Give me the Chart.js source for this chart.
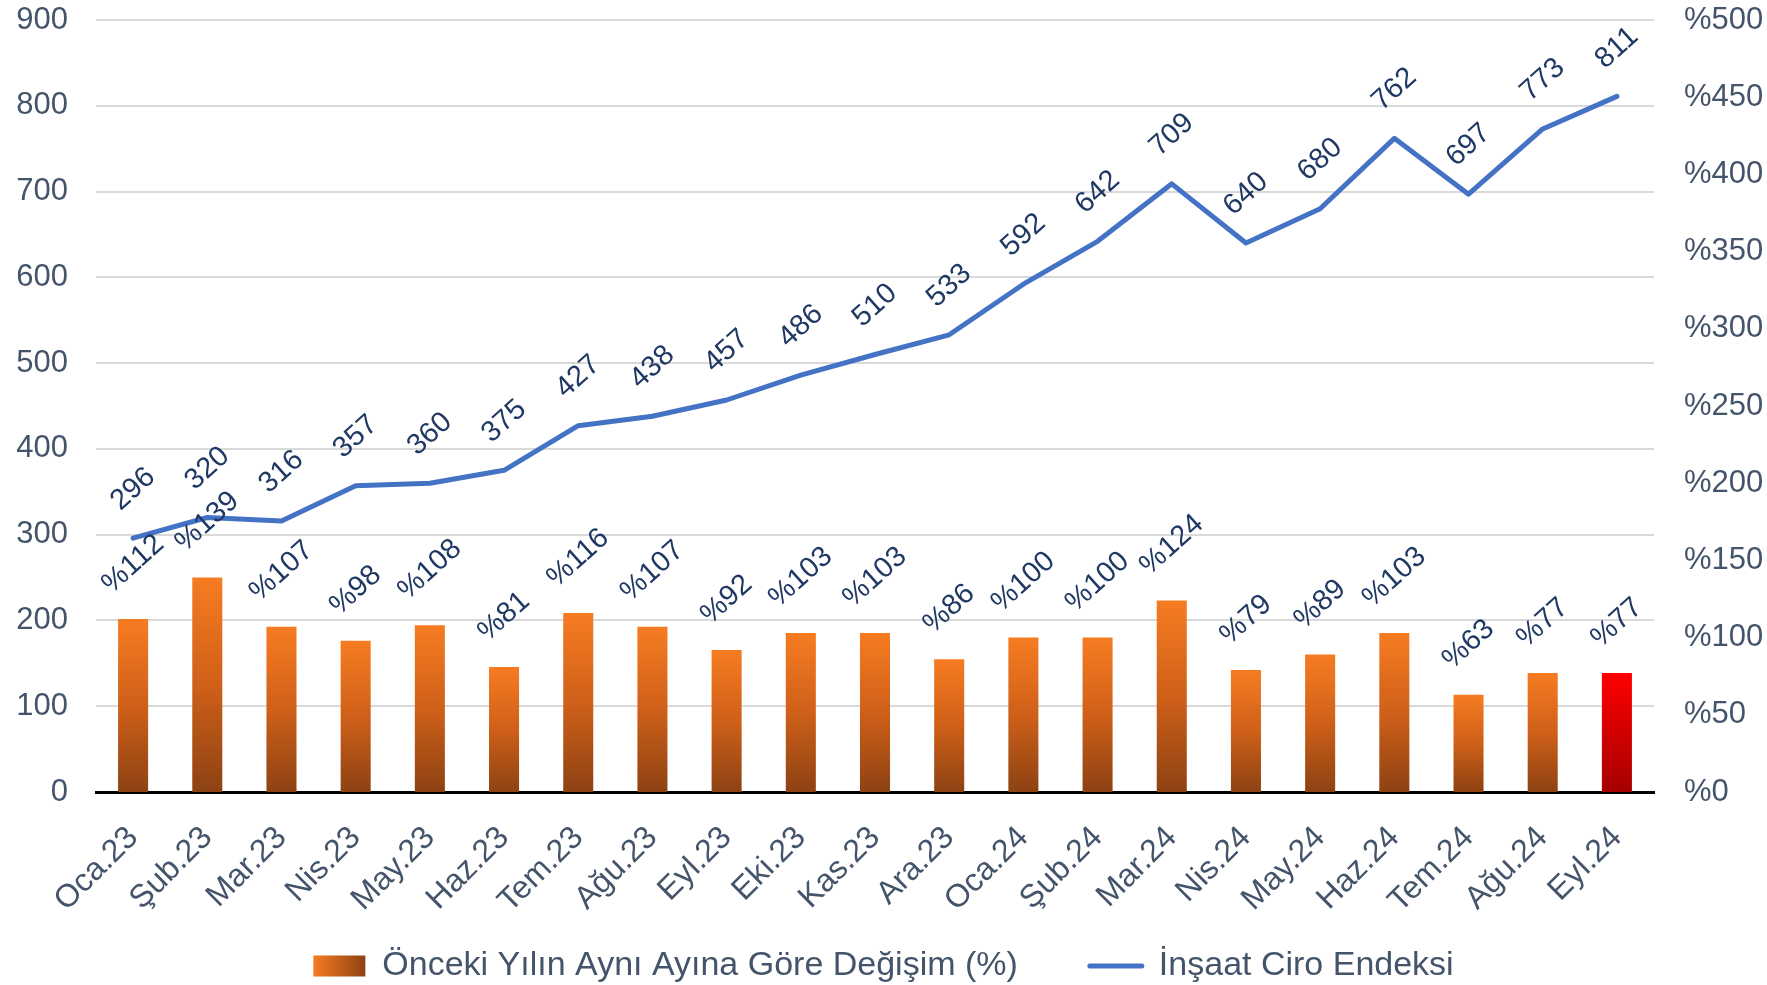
<!DOCTYPE html>
<html>
<head>
<meta charset="utf-8">
<script src="https://cdn.jsdelivr.net/npm/chart.js@4.4.1/dist/chart.umd.min.js"></script>
<style>
html,body{margin:0;padding:0;background:#ffffff;}
canvas{display:block;}
</style>
</head>
<body>
<canvas id="c" width="1767" height="985"></canvas>
<script>
const categories = ["Oca.23","Şub.23","Mar.23","Nis.23","May.23","Haz.23","Tem.23","Ağu.23","Eyl.23","Eki.23","Kas.23","Ara.23","Oca.24","Şub.24","Mar.24","Nis.24","May.24","Haz.24","Tem.24","Ağu.24","Eyl.24"];
const indexValues = [296,320,316,357,360,375,427,438,457,486,510,533,592,642,709,640,680,762,697,773,811];
const yoyChange = [112,139,107,98,108,81,116,107,92,103,103,86,100,100,124,79,89,103,63,77,77];
const leftTicks = [0,100,200,300,400,500,600,700,800,900];
const rightTicks = [0,50,100,150,200,250,300,350,400,450,500];
const highlightCategory = "Eyl.24";
const barLabel = "Önceki Yılın Aynı Ayına Göre Değişim (%)";
const lineLabel = "İnşaat Ciro Endeksi";

const FONT = "'Liberation Sans', Arial, sans-serif";
const TICK_COLOR = "#44546A";
const LABEL_COLOR = "#1F3864";

function barFill(c) {
  if (c.type !== 'data') return '#E06A1E';
  const ch = c.chart;
  const s = ch.scales.y1;
  if (!s || !ch.chartArea) return '#E06A1E';
  const top = s.getPixelForValue(c.raw);
  const bot = s.getPixelForValue(0);
  const g = ch.ctx.createLinearGradient(0, top, 0, bot);
  if (categories[c.dataIndex] === highlightCategory) {
    g.addColorStop(0, '#FF0000');
    g.addColorStop(1, '#A50000');
  } else {
    g.addColorStop(0, '#F67C22');
    g.addColorStop(0.5, '#CF6019');
    g.addColorStop(1, '#8D4213');
  }
  return g;
}

const rotLabels = {
  id: 'rotLabels',
  afterDatasetsDraw(chart) {
    const ctx = chart.ctx;
    const th = 42 * Math.PI / 180;
    chart.data.datasets.forEach((ds, i) => {
      const meta = chart.getDatasetMeta(i);
      meta.data.forEach((el, j) => {
        const txt = ds.type === 'bar' ? '%' + ds.data[j] : String(ds.data[j]);
        ctx.save();
        ctx.font = '29px ' + FONT;
        const w = ctx.measureText(txt).width;
        const h = 21;
        const half = (w * Math.sin(th) + h * Math.cos(th)) / 2;
        const gap = ds.type === 'bar' ? 23 : 25;
        ctx.translate(el.x, el.y - gap - half);
        ctx.rotate(-th);
        ctx.textAlign = 'center';
        ctx.textBaseline = 'middle';
        ctx.fillStyle = LABEL_COLOR;
        ctx.fillText(txt, 0, 0);
        ctx.restore();
      });
    });
  }
};

const legendFill = {
  id: 'legendFill',
  beforeDraw(chart) {
    if (chart.scales.x) chart.scales.x._computeLabelArea = () => undefined;
    const lg = chart.legend;
    if (!lg || !lg.legendItems || !lg.legendHitBoxes) return;
    lg.legendItems.forEach((it, k) => {
      const ds = chart.data.datasets[it.datasetIndex];
      const hb = lg.legendHitBoxes[k];
      if (ds.type === 'bar' && hb) {
        const g = chart.ctx.createLinearGradient(hb.left, 0, hb.left + 52, 0);
        g.addColorStop(0, '#F67C22');
        g.addColorStop(1, '#8D4213');
        it.fillStyle = g;
      }
    });
  }
};

new Chart(document.getElementById('c'), {
  data: {
    labels: categories,
    datasets: [
      {
        type: 'bar',
        label: barLabel,
        data: yoyChange,
        yAxisID: 'y1',
        backgroundColor: barFill,
        borderWidth: 0,
        barPercentage: 0.405,
        categoryPercentage: 1,
        order: 1
      },
      {
        type: 'line',
        label: lineLabel,
        data: indexValues,
        yAxisID: 'y',
        borderColor: '#4472C4',
        backgroundColor: '#4472C4',
        borderWidth: 5,
        pointRadius: 0,
        pointHoverRadius: 0,
        tension: 0,
        borderCapStyle: 'round',
        borderJoinStyle: 'round',
        order: 0
      }
    ]
  },
  options: {
    responsive: false,
    animation: false,
    devicePixelRatio: 1,
    layout: { padding: { top: 20, left: 0, right: 0, bottom: -8 } },
    plugins: {
      tooltip: { enabled: false },
      legend: {
        position: 'bottom',
        labels: {
          usePointStyle: true,
          pointStyleWidth: 52,
          boxHeight: 21,
          padding: 72,
          color: TICK_COLOR,
          font: { size: 34, family: FONT },
          sort: (a, b) => a.datasetIndex - b.datasetIndex,
          generateLabels: (chart) => {
            const items = Chart.defaults.plugins.legend.labels.generateLabels(chart);
            items.forEach(it => {
              const ds = chart.data.datasets[it.datasetIndex];
              if (ds.type === 'line') {
                it.pointStyle = 'line';
                it.strokeStyle = '#4472C4';
                it.fillStyle = '#4472C4';
                it.lineWidth = 5;
                it.lineCap = 'round';
              } else {
                it.pointStyle = 'rect';
                it.fillStyle = '#D0661C';
                it.strokeStyle = 'rgba(0,0,0,0)';
                it.lineWidth = 0;
              }
            });
            return items;
          }
        }
      }
    },
    scales: {
      x: {
        grid: { display: false, drawTicks: false },
        border: { display: true, color: '#000000', width: 3 },
        ticks: {
          color: TICK_COLOR,
          font: { size: 32, family: FONT },
          maxRotation: 45,
          minRotation: 45,
          autoSkip: false,
          padding: 27
        },
        afterFit: s => { s.height = 85; }
      },
      y: {
        position: 'left',
        min: 0,
        max: 900,
        afterBuildTicks: s => { s.ticks = leftTicks.map(v => ({ value: v })); },
        ticks: {
          color: TICK_COLOR,
          font: { size: 31, family: FONT },
          padding: 0
        },
        grid: { color: '#D9D9D9', lineWidth: 2, drawTicks: true, tickLength: 28, tickColor: 'rgba(0,0,0,0)' },
        border: { display: false },
        afterFit: s => { s.width = 96; }
      },
      y1: {
        position: 'right',
        min: 0,
        max: 500,
        afterBuildTicks: s => { s.ticks = rightTicks.map(v => ({ value: v })); },
        ticks: {
          color: TICK_COLOR,
          font: { size: 31, family: FONT },
          padding: 0,
          callback: v => '%' + v
        },
        grid: { display: false, drawOnChartArea: false, drawTicks: true, tickLength: 30, tickColor: 'rgba(0,0,0,0)' },
        border: { display: false },
        afterFit: s => { s.width = 113; }
      }
    }
  },
  plugins: [rotLabels, legendFill]
});
</script>
</body>
</html>
